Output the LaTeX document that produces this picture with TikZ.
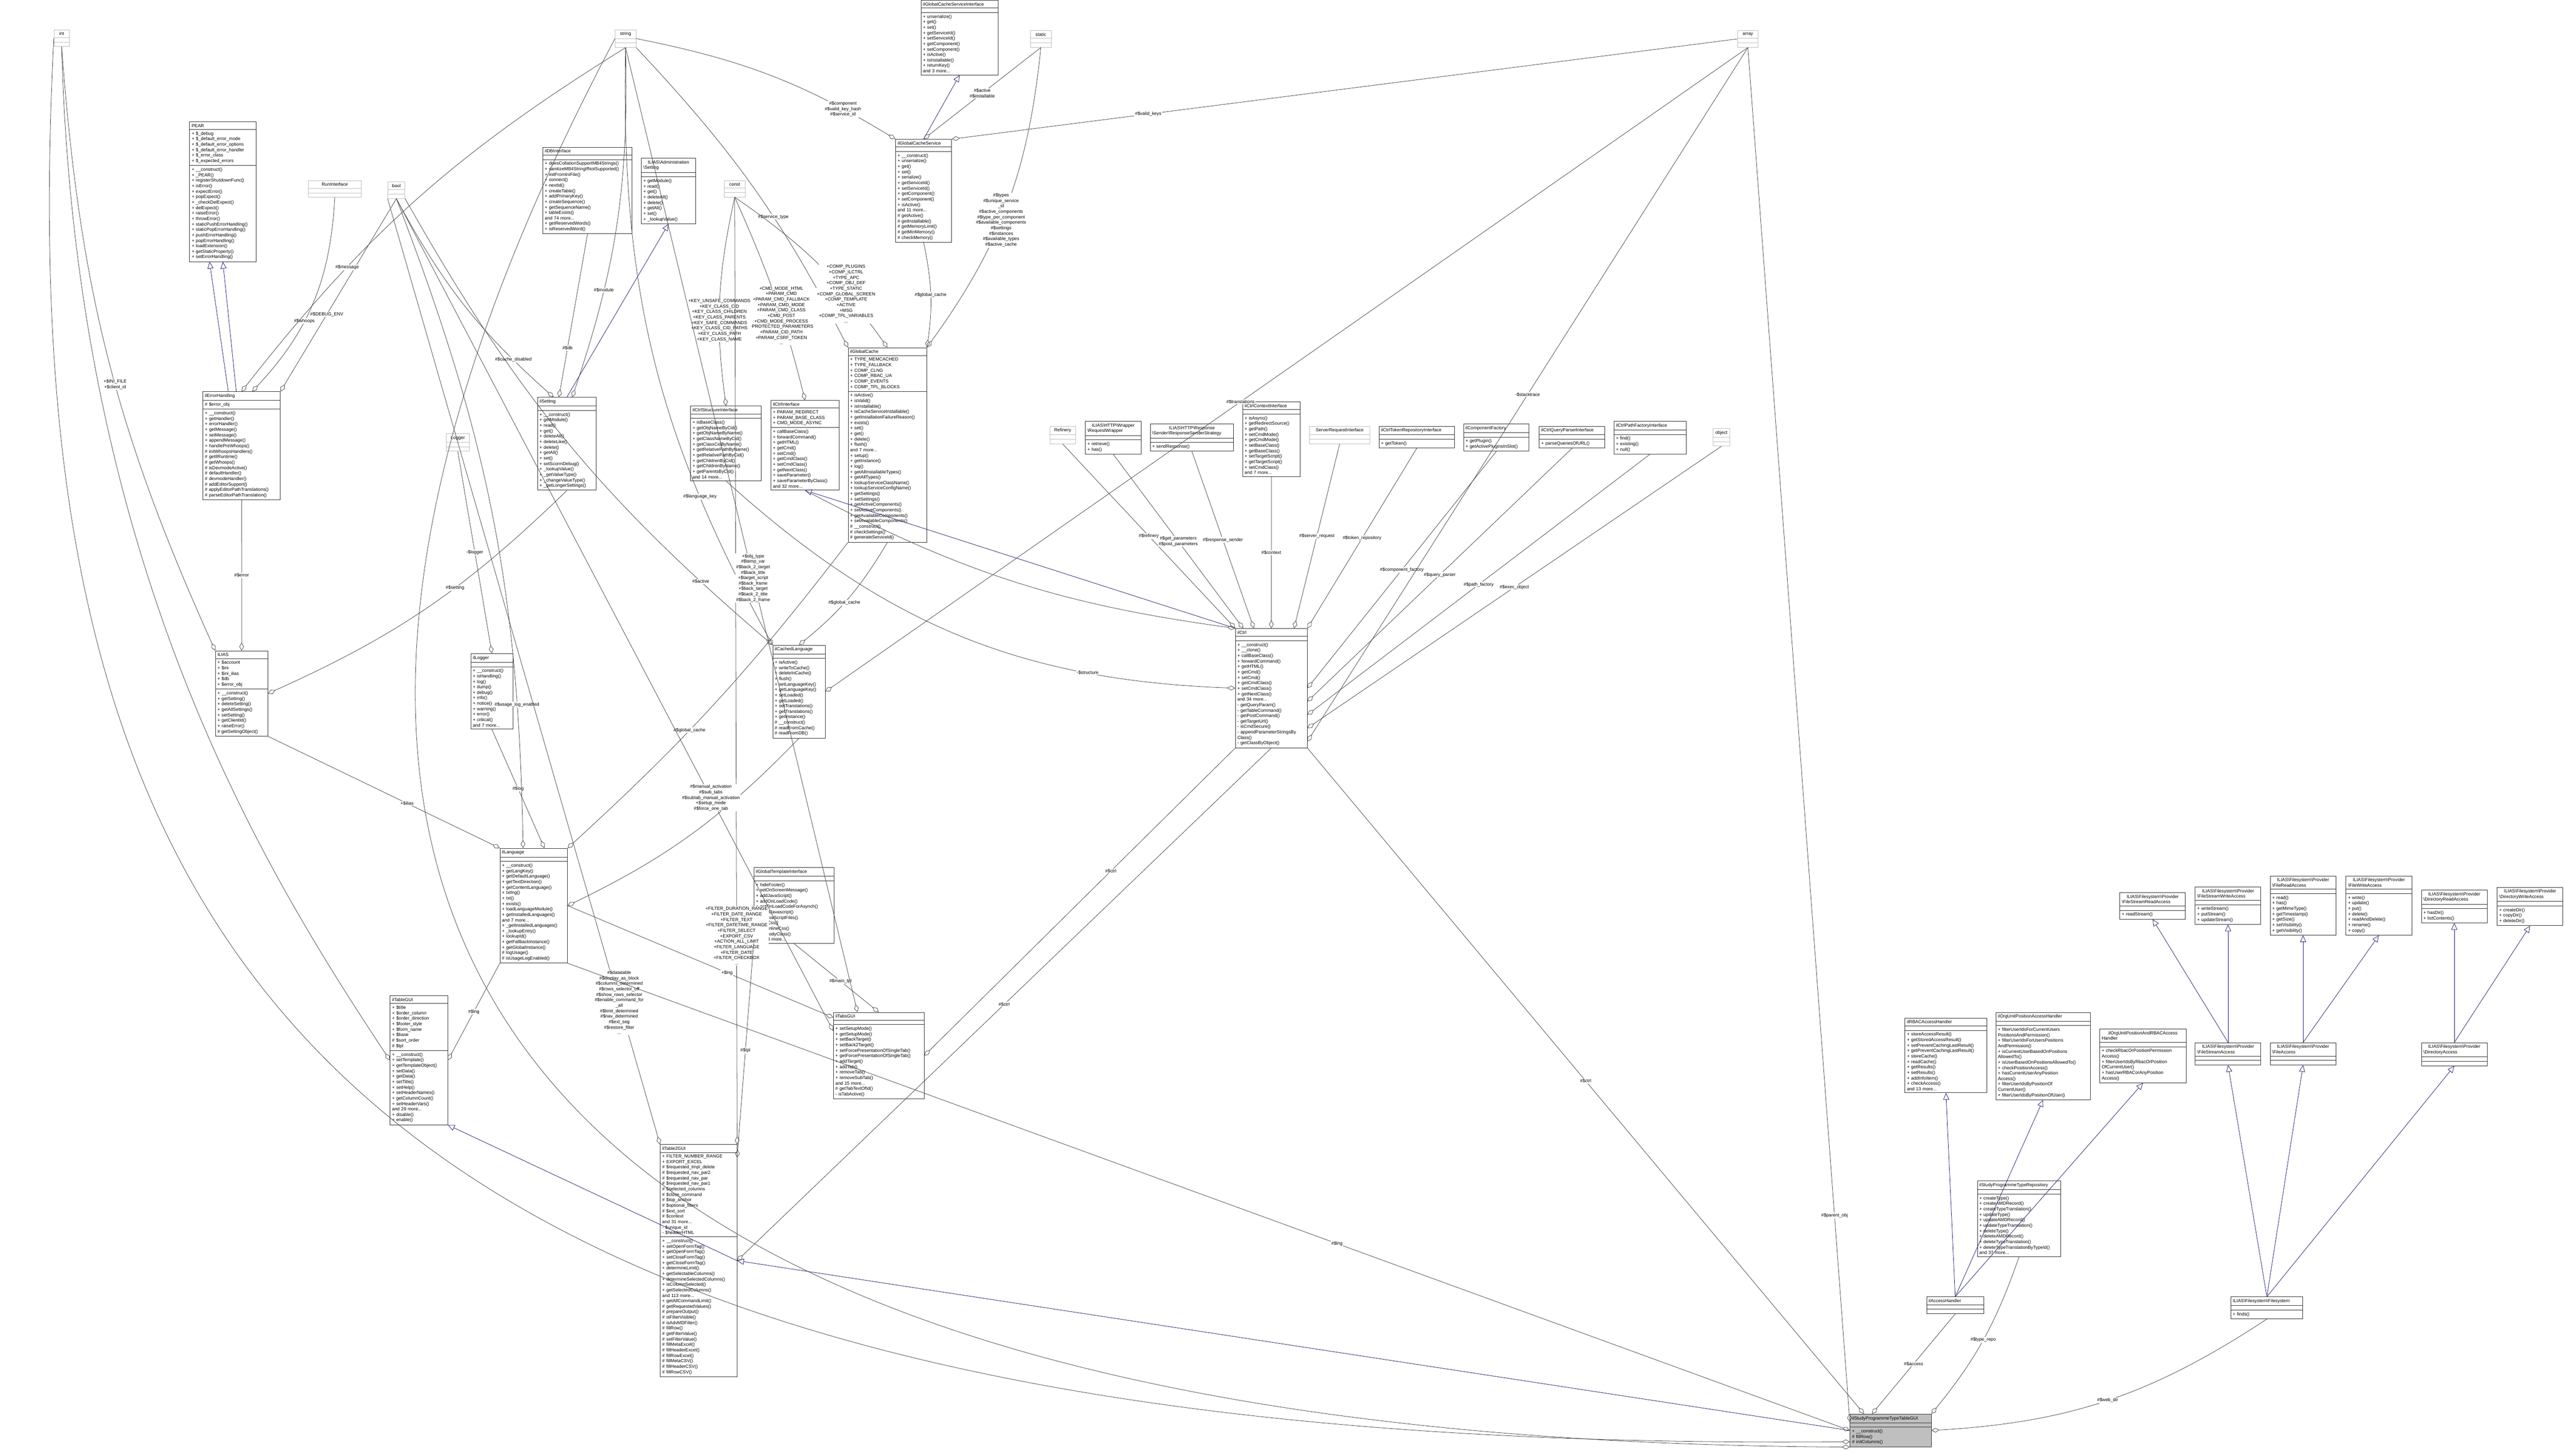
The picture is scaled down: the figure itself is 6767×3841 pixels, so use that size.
\documentclass[tikz,border=0pt]{standalone}
\usepackage{fontspec}
\setmainfont{Liberation Sans}
\usetikzlibrary{shapes.multipart,arrows.meta}
\definecolor{inhblue}{RGB}{25,25,112}
\tikzset{
  cls/.style={draw=black!80,line width=0.35pt,rectangle split,rectangle split parts=3,
    rectangle split empty part height=4pt,align=left,inner sep=1.5pt,anchor=north west,
    font=\fontsize{3.4}{4.1}\selectfont},
  grey/.style={cls,draw=black!25,align=center},
  agg/.style={draw=black!75,line width=0.3pt,-{Diamond[open,length=6pt,width=3.4pt]}},
  inh/.style={draw=inhblue,line width=0.3pt,-{Triangle[open,length=5pt,width=4.5pt]}},
  lbl/.style={font=\fontsize{3.4}{4.1}\selectfont,align=center,fill=white,inner sep=0.5pt}
}
\newcommand\mkcls[6]{\node[cls,text width=#3pt] (#1) at (#2) {\centering #4\nodepart{two}#5\nodepart{three}#6};}
\newcommand\mkgrey[4]{\node[grey,text width=#3pt] (#1) at (#2) {#4\nodepart{two}\nodepart{three}};}
\begin{document}
\begin{tikzpicture}[x=0.01cm,y=-0.01cm]
\useasboundingbox (0,0) rectangle (6767,3841);
% grey boxes
\mkgrey{int}{142,78}{8.4}{int}
\mkgrey{string}{1623,78}{12.6}{string}
\mkgrey{static}{2719,80}{12.6}{static}
\mkgrey{array}{4585,80}{12.6}{array}
\mkgrey{bool}{1023,479}{9.8}{bool}
\mkgrey{const}{1911,476}{12.6}{const}
\mkgrey{run}{813,476}{36.8}{RunInterface}
\mkgrey{logger}{1177,1144}{14.4}{Logger}
\mkgrey{refinery}{2770,1124}{16.3}{Refinery}
\mkgrey{srvreq}{3455,1124}{42.5}{ServerRequestInterface}
\mkgrey{object}{4520,1130}{9.8}{object}
% classes
\mkcls{gcsi}{2430,0}{54.9}{ilGlobalCacheServiceInterface}{}{+ unserialize()\\+ get()\\+ set()\\+ getServiceId()\\+ setServiceId()\\+ getComponent()\\+ setComponent()\\+ isActive()\\+ isInstallable()\\+ returnKey()\\and 3 more...}
\mkcls{pear}{500,321}{46.8}{PEAR}{+ \$\_debug\\+ \$\_default\_error\_mode\\+ \$\_default\_error\_options\\+ \$\_default\_error\_handler\\+ \$\_error\_class\\+ \$\_expected\_errors}{+ \_\_construct()\\+ \_PEAR()\\+ registerShutdownFunc()\\+ isError()\\+ expectError()\\+ popExpect()\\+ \_checkDelExpect()\\+ delExpect()\\+ raiseError()\\+ throwError()\\+ staticPushErrorHandling()\\+ staticPopErrorHandling()\\+ pushErrorHandling()\\+ popErrorHandling()\\+ loadExtension()\\+ getStaticProperty()\\+ setErrorHandling()}
\mkcls{dbi}{1432,388}{64.1}{ilDBInterface}{}{+ doesCollationSupportMB4Strings()\\+ sanitizeMB4StringIfNotSupported()\\+ initFromIniFile()\\+ connect()\\+ nextId()\\+ createTable()\\+ addPrimaryKey()\\+ createSequence()\\+ getSequenceName()\\+ tableExists()\\and 74 more...\\+ getReservedWords()\\+ isReservedWord()}
\mkcls{admset}{1692,417}{37.7}{ILIAS\textbackslash Administration\\\textbackslash Setting}{}{+ getModule()\\+ read()\\+ get()\\+ deleteAll()\\+ delete()\\+ getAll()\\+ set()\\+ \_lookupValue()}
\mkcls{gcs}{2363,367}{39.1}{ilGlobalCacheService}{}{+ \_\_construct()\\+ unserialize()\\+ get()\\+ set()\\+ serialize()\\+ getServiceId()\\+ setServiceId()\\+ getComponent()\\+ setComponent()\\+ isActive()\\and 11 more...\\\# getActive()\\\# getInstallable()\\\# getMemoryLimit()\\\# getMinMemory()\\\# checkMemory()}
\mkcls{err}{535,1033}{55.0}{ilErrorHandling}{\# \$error\_obj}{+ \_\_construct()\\+ getHandler()\\+ errorHandler()\\+ getMessage()\\+ setMessage()\\+ appendMessage()\\+ handlePreWhoops()\\\# initWhoopsHandlers()\\\# getIlRuntime()\\\# getWhoops()\\\# isDevmodeActive()\\\# defaultHandler()\\\# devmodeHandler()\\\# addEditorSupport()\\\# applyEditorPathTranslations()\\\# parseEditorPathTranslation()}
\mkcls{set}{1418,1048}{41.1}{ilSetting}{}{+ \_\_construct()\\+ getModule()\\+ read()\\+ get()\\+ deleteAll()\\+ deleteLike()\\+ delete()\\+ getAll()\\+ set()\\+ setScormDebug()\\+ \_lookupValue()\\+ \_getValueType()\\+ \_changeValueType()\\+ \_getLongerSettings()}
\mkcls{csi}{1822,1071}{50.2}{ilCtrlStructureInterface}{}{+ isBaseClass()\\+ getObjNameByCid()\\+ getObjNameByName()\\+ getClassNameByCid()\\+ getClassCidByName()\\+ getRelativePathByName()\\+ getRelativePathByCid()\\+ getChildrenByCid()\\+ getChildrenByName()\\+ getParentsByCid()\\and 14 more...}
\mkcls{ci}{2034,1056}{48.2}{ilCtrlInterface}{+ PARAM\_REDIRECT\\+ PARAM\_BASE\_CLASS\\+ CMD\_MODE\_ASYNC}{+ callBaseClass()\\+ forwardCommand()\\+ getHTML()\\+ getCmd()\\+ setCmd()\\+ getCmdClass()\\+ setCmdClass()\\+ getNextClass()\\+ saveParameter()\\+ saveParameterByClass()\\and 32 more...}
\mkcls{gc}{2238,917}{55.9}{ilGlobalCache}{+ TYPE\_MEMCACHED\\+ TYPE\_FALLBACK\\+ COMP\_CLNG\\+ COMP\_RBAC\_UA\\+ COMP\_EVENTS\\+ COMP\_TPL\_BLOCKS}{+ isActive()\\+ isValid()\\+ isInstallable()\\+ isCacheServiceInstallable()\\+ getInstallationFailureReason()\\+ exists()\\+ set()\\+ get()\\+ delete()\\+ flush()\\and 7 more...\\+ setup()\\+ getInstance()\\+ log()\\+ getAllInstallableTypes()\\+ getAllTypes()\\+ lookupServiceClassName()\\+ lookupServiceConfigName()\\+ getSettings()\\+ setSettings()\\+ getActiveComponents()\\+ setActiveComponents()\\+ getAvailableComponents()\\+ setAvailableComponents()\\\# \_\_construct()\\\# checkSettings()\\\# generateServiceId()}
\mkcls{rw}{2864,1111}{38.8}{ILIAS\textbackslash HTTP\textbackslash Wrapper\\\textbackslash RequestWrapper}{}{+ retrieve()\\+ has()}
\mkcls{rss}{3035,1118}{59.6}{ILIAS\textbackslash HTTP\textbackslash Response\\\textbackslash Sender\textbackslash ResponseSenderStrategy}{}{+ sendResponse()}
\mkcls{cci}{3279,1060}{40.0}{ilCtrlContextInterface}{}{+ isAsync()\\+ getRedirectSource()\\+ getPath()\\+ setCmdMode()\\+ getCmdMode()\\+ setBaseClass()\\+ getBaseClass()\\+ setTargetScript()\\+ getTargetScript()\\+ setCmdClass()\\and 7 more...}
\mkcls{ctr}{3639,1124}{53.6}{ilCtrlTokenRepositoryInterface}{}{+ getToken()}
\mkcls{cf}{3862,1118}{46.2}{ilComponentFactory}{}{+ getPlugin()\\+ getActivePluginsInSlot()}
\mkcls{cqp}{4062,1124}{46.2}{ilCtrlQueryParserInterface}{}{+ parseQueriesOfURL()}
\mkcls{cpf}{4259,1111}{51.1}{ilCtrlPathFactoryInterface}{}{+ find()\\+ existing()\\+ null()}
\mkcls{ilias}{568,1717}{36.3}{ILIAS}{+ \$account\\+ \$ini\\+ \$ini\_ilias\\+ \$db\\+ \$error\_obj}{+ \_\_construct()\\+ getSetting()\\+ deleteSetting()\\+ getAllSettings()\\+ setSetting()\\+ getClientId()\\+ raiseError()\\\# getSettingObject()}
\mkcls{ilogger}{1242,1724}{28.6}{ilLogger}{}{+ \_\_construct()\\+ isHandling()\\+ log()\\+ dump()\\+ debug()\\+ info()\\+ notice()\\+ warning()\\+ error()\\+ critical()\\and 7 more...}
\mkcls{cl}{2039,1702}{36.3}{ilCachedLanguage}{}{+ isActive()\\+ writeToCache()\\+ deleteInCache()\\+ flush()\\+ setLanguageKey()\\+ getLanguageKey()\\+ setLoaded()\\+ getLoaded()\\+ setTranslations()\\+ getTranslations()\\+ getInstance()\\\# \_\_construct()\\\# readFromCache()\\\# readFromDB()}
\mkcls{ctrl}{3260,1658}{50.8}{ilCtrl}{}{+ \_\_construct()\\+ \_\_clone()\\+ callBaseClass()\\+ forwardCommand()\\+ getHTML()\\+ getCmd()\\+ setCmd()\\+ getCmdClass()\\+ setCmdClass()\\+ getNextClass()\\and 34 more...\\- getQueryParam()\\- getTableCommand()\\- getPostCommand()\\- getTargetUrl()\\- isCmdSecure()\\- appendParameterStringsBy\\Class()\\- getClassByObject()}
\mkcls{lng}{1319,2238}{47.6}{ilLanguage}{}{+ \_\_construct()\\+ getLangKey()\\+ getDefaultLanguage()\\+ getTextDirection()\\+ getContentLanguage()\\+ txtlng()\\+ txt()\\+ exists()\\+ loadLanguageModule()\\+ getInstalledLanguages()\\and 7 more...\\+ \_getInstalledLanguages()\\+ \_lookupEntry()\\+ lookupId()\\+ getFallbackInstance()\\+ getGlobalInstance()\\\# logUsage()\\\# isUsageLogEnabled()}
\mkcls{gti}{1989,2289}{57.0}{ilGlobalTemplateInterface}{}{+ hideFooter()\\+ setOnScreenMessage()\\+ addJavaScript()\\+ addOnLoadCode()\\+ getOnLoadCodeForAsynch()\\+ resetJavascript()\\+ fillJavaScriptFiles()\\+ addCss()\\+ addInlineCss()\\+ setBodyClass()\\and 33 more...}
\mkcls{tgui}{1029,2627}{40.2}{ilTableGUI}{+ \$title\\+ \$order\_column\\+ \$order\_direction\\+ \$footer\_style\\+ \$form\_name\\+ \$base\\\# \$sort\_order\\\# \$tpl}{+ \_\_construct()\\+ setTemplate()\\+ getTemplateObject()\\+ setData()\\+ getData()\\+ setTitle()\\+ setHelp()\\+ setHeaderNames()\\+ getColumnCount()\\+ setHeaderVars()\\and 29 more...\\+ disable()\\+ enable()}
\mkcls{tabs}{2199,2671}{65.0}{ilTabsGUI}{}{+ setSetupMode()\\+ getSetupMode()\\+ setBackTarget()\\+ setBack2Target()\\+ setForcePresentationOfSingleTab()\\+ getForcePresentationOfSingleTab()\\+ addTarget()\\+ addTab()\\+ removeTab()\\+ removeSubTab()\\and 15 more...\\\# getTabTextOfId()\\- isTabActive()}
\mkcls{t2}{1742,3020}{54.5}{ilTable2GUI}{+ FILTER\_NUMBER\_RANGE\\+ EXPORT\_EXCEL\\\# \$requested\_tmpl\_delete\\\# \$requested\_nav\_par2\\\# \$requested\_nav\_par\\\# \$requested\_nav\_par1\\\# \$selected\_columns\\\# \$close\_command\\\# \$top\_anchor\\\# \$optional\_filters\\\# \$ext\_sort\\\# \$context\\and 31 more...\\- \$unique\_id\\- \$headerHTML}{+ \_\_construct()\\+ setOpenFormTag()\\+ getOpenFormTag()\\+ setCloseFormTag()\\+ getCloseFormTag()\\+ determineLimit()\\+ getSelectableColumns()\\+ determineSelectedColumns()\\+ isColumnSelected()\\+ getSelectedColumns()\\and 113 more...\\+ getAllCommandLimit()\\\# getRequestedValues()\\\# prepareOutput()\\\# isFilterVisible()\\\# isAdvMDFilter()\\\# fillRow()\\\# getFilterValue()\\\# setFilterValue()\\\# fillMetaExcel()\\\# fillHeaderExcel()\\\# fillRowExcel()\\\# fillMetaCSV()\\\# fillHeaderCSV()\\\# fillRowCSV()}
\mkcls{rbac}{5027,2686}{58.5}{ilRBACAccessHandler}{}{+ storeAccessResult()\\+ getStoredAccessResult()\\+ setPreventCachingLastResult()\\+ getPreventCachingLastResult()\\+ storeCache()\\+ readCache()\\+ getResults()\\+ setResults()\\+ addInfoItem()\\+ checkAccess()\\and 13 more...}
\mkcls{oupa}{5267,2671}{67.8}{ilOrgUnitPositionAccessHandler}{}{+ filterUserIdsForCurrentUsers\\PositionsAndPermission()\\+ filterUserIdsForUsersPositions\\AndPermission()\\+ isCurrentUserBasedOnPositions\\AllowedTo()\\+ isUserBasedOnPositionsAllowedTo()\\+ checkPositionAccess()\\+ hasCurrentUserAnyPosition\\Access()\\+ filterUserIdsByPositionOf\\CurrentUser()\\+ filterUserIdsByPositionOfUser()}
\mkcls{ouparbac}{5541,2715}{61.9}{ilOrgUnitPositionAndRBACAccess\\Handler}{}{+ checkRbacOrPositionPermission\\Access()\\+ filterUserIdsByRbacOrPosition\\OfCurrentUser()\\+ hasUserRBACorAnyPosition\\Access()}
\mkcls{fsra}{5594,2355}{46.3}{ILIAS\textbackslash Filesystem\textbackslash Provider\\\textbackslash FileStreamReadAccess}{}{+ readStream()}
\mkcls{fswa}{5793,2340}{46.3}{ILIAS\textbackslash Filesystem\textbackslash Provider\\\textbackslash FileStreamWriteAccess}{}{+ writeStream()\\+ putStream()\\+ updateStream()}
\mkcls{fra}{5991,2311}{46.3}{ILIAS\textbackslash Filesystem\textbackslash Provider\\\textbackslash FileReadAccess}{}{+ read()\\+ has()\\+ getMimeType()\\+ getTimestamp()\\+ getSize()\\+ setVisibility()\\+ getVisibility()}
\mkcls{fwa}{6191,2311}{46.3}{ILIAS\textbackslash Filesystem\textbackslash Provider\\\textbackslash FileWriteAccess}{}{+ write()\\+ update()\\+ put()\\+ delete()\\+ readAndDelete()\\+ rename()\\+ copy()}
\mkcls{dra}{6390,2348}{46.3}{ILIAS\textbackslash Filesystem\textbackslash Provider\\\textbackslash DirectoryReadAccess}{}{+ hasDir()\\+ listContents()}
\mkcls{dwa}{6590,2341}{46.3}{ILIAS\textbackslash Filesystem\textbackslash Provider\\\textbackslash DirectoryWriteAccess}{}{+ createDir()\\+ copyDir()\\+ deleteDir()}
\mkcls{fsa}{5793,2751}{46.3}{ILIAS\textbackslash Filesystem\textbackslash Provider\\\textbackslash FileStreamAccess}{}{}
\mkcls{fa}{5991,2751}{46.3}{ILIAS\textbackslash Filesystem\textbackslash Provider\\\textbackslash FileAccess}{}{}
\mkcls{da}{6390,2751}{46.3}{ILIAS\textbackslash Filesystem\textbackslash Provider\\\textbackslash DirectoryAccess}{}{}
\mkcls{ah}{5084,3422}{40.0}{ilAccessHandler}{}{}
\mkcls{repo}{5218,3116}{59.6}{ilStudyProgrammeTypeRepository}{}{+ createType()\\+ createAMDRecord()\\+ createTypeTranslation()\\+ updateType()\\+ updateAMDRecord()\\+ updateTypeTranslation()\\+ deleteType()\\+ deleteAMDRecord()\\+ deleteTypeTranslation()\\+ deleteTypeTranslationByTypeId()\\and 37 more...}
\mkcls{fs}{5887,3422}{51.1}{ILIAS\textbackslash Filesystem\textbackslash Filesystem}{}{+ finds()}
\node[cls,text width=57.9pt,fill=black!25] (T) at (4882,3731) {\centering ilStudyProgrammeTypeTableGUI\nodepart{two}\nodepart{three}+ \_\_construct()\\\# fillRow()\\\# initColumns()};
% inheritance
\draw[inh] ([xshift=-10pt]err.north) -- ([xshift=-10pt]pear.south);
\draw[inh] ([xshift=-4pt]err.north) -- ([xshift=0pt]pear.south);
\draw[inh] (set.north) -- (admset.south);
\draw[inh] (gcs.north) -- (gcsi.south);
\draw[inh] (ctrl.north west) -- (ci.south);
\draw[inh] (t2.east) -- (tgui.south east);
\draw[inh] (T.west) -- (t2.east);
\draw[inh] (ah.north) -- (rbac.south);
\draw[inh] (ah.north) -- (oupa.south);
\draw[inh] (ah.north) -- (ouparbac.south);
\draw[inh] (fs.north) -- (fsa.south);
\draw[inh] (fs.north) -- (fa.south);
\draw[inh] (fs.north) -- (da.south);
\draw[inh] (fsa.north) -- (fsra.south);
\draw[inh] (fsa.north) -- (fswa.south);
\draw[inh] (fa.north) -- (fra.south);
\draw[inh] (fa.north) -- (fwa.south);
\draw[inh] (da.north) -- (dra.south);
\draw[inh] (da.north) -- (dwa.south);
% aggregations
\draw[agg] (run.south) to[bend left=20] node[lbl,pos=0.6]{\#\$whoops} ([xshift=8pt]err.north);
\draw[agg] (bool.south) to node[lbl,pos=0.6]{\#\$DEBUG\_ENV} (err.north east);
\draw[agg] (string.south) to[bend right=10] node[lbl,pos=0.7]{\#\$message} (err.north);
\draw[agg] (int.south) to[bend right=10] node[lbl,pos=0.55]{+\$INI\_FILE\\+\$client\_id} (ilias.north west);
\draw[agg] (err.south) -- node[lbl]{\#\$error} (ilias.north);
\draw[agg] (dbi.south) -- node[lbl,pos=0.7]{\#\$db} ([xshift=-6pt]set.north);
\draw[agg] (bool.south) to[bend right=10] node[lbl,pos=0.8]{\#\$cache\_disabled} ([xshift=-10pt]set.north);
\draw[agg] (string.south) to[bend left=10] node[lbl,pos=0.7]{\#\$module} ([xshift=4pt]set.north);
\draw[agg] (set.south) to[bend left=10] node[lbl,pos=0.4]{\#\$setting} (ilias.east);
\draw[agg] (string.east) to[bend left=10] node[lbl,pos=0.8]{\#\$component\\\#\$valid\_key\_hash\\\#\$service\_id} (gcs.north west);
\draw[agg] (static.south) to node[lbl,pos=0.5]{\#\$active\\\#\$installable} (gcs.north);
\draw[agg] (array.west) -- node[lbl,pos=0.75]{\#\$valid\_keys} (gcs.north east);
\draw[agg] (string.south east) to[bend left=8] node[lbl,pos=0.6]{\#\$service\_type} (gc.north west);
\draw[agg] (static.south) to[bend left=15] node[lbl,pos=0.55]{\#\$types\\\#\$unique\_service\\\_id\\\#\$active\_components\\\#\$type\_per\_component\\\#\$available\_components\\\#\$settings\\\#\$instances\\\#\$available\_types\\\#\$active\_cache} (gc.north east);
\draw[agg] (const.south) to[bend left=10] node[lbl,pos=0.7]{+COMP\_PLUGINS\\+COMP\_ILCTRL\\+TYPE\_APC\\+COMP\_OBJ\_DEF\\+TYPE\_STATIC\\+COMP\_GLOBAL\_SCREEN\\+COMP\_TEMPLATE\\+ACTIVE\\+MSG\\+COMP\_TPL\_VARIABLES\\...} (gc.north);
\draw[agg] (const.south) to[bend left=5] node[lbl,pos=0.6]{+CMD\_MODE\_HTML\\+PARAM\_CMD\\+PARAM\_CMD\_FALLBACK\\+PARAM\_CMD\_MODE\\+PARAM\_CMD\_CLASS\\+CMD\_POST\\+CMD\_MODE\_PROCESS\\+PROTECTED\_PARAMETERS\\+PARAM\_CID\_PATH\\+PARAM\_CSRF\_TOKEN\\...} (ci.north);
\draw[agg] (const.south) to[bend right=10] node[lbl,pos=0.6]{+KEY\_UNSAFE\_COMMANDS\\+KEY\_CLASS\_CID\\+KEY\_CLASS\_CHILDREN\\+KEY\_CLASS\_PARENTS\\+KEY\_SAFE\_COMMANDS\\+KEY\_CLASS\_CID\_PATHS\\+KEY\_CLASS\_PATH\\+KEY\_CLASS\_NAME} (csi.north);
\draw[agg] (gcs.south) to[bend left=10] node[lbl,pos=0.5]{\#\$global\_cache} (gc.north east);
\draw[agg] (gc.south) to[bend left=10] node[lbl,pos=0.55]{\#\$global\_cache} (cl.north);
\draw[agg] (bool.south east) to[bend right=10] node[lbl,pos=0.85]{\#\$active} (cl.north west);
\draw[agg] (string.south) to[bend right=15] node[lbl,pos=0.75]{\#\$language\_key} (cl.north west);
\draw[agg] (array.south) -- node[lbl,pos=0.55]{\#\$translations} (cl.east);
\draw[agg] (logger.south) to node[lbl,pos=0.5]{-\$logger} (ilogger.north);
\draw[agg] (ilogger.south) to node[lbl,pos=0.5]{\#\$log} ([xshift=8pt]lng.north);
\draw[agg] (ilias.south east) to node[lbl,pos=0.6]{+\$ilias} (lng.north west);
\draw[agg] (bool.south) to[bend left=10] node[lbl,pos=0.8]{\#\$usage\_log\_enabled} ([xshift=-8pt]lng.north);
\draw[agg] (gc.south west) to[bend left=5] node[lbl,pos=0.6]{\#\$global\_cache} (lng.north east);
\draw[agg] (cl.south) to[bend left=10] (lng.east);
\draw[agg] (ci.south) to[bend right=10] (ctrl.north west);
\draw[agg] (csi.south) to[bend right=20] node[lbl,pos=0.75]{-\$structure} (ctrl.west);
\draw[agg] (refinery.south) -- node[lbl,pos=0.5]{\#\$refinery} (ctrl.north west);
\draw[agg] (rw.south) -- node[lbl,pos=0.5]{\#\$get\_parameters\\\#\$post\_parameters} ([xshift=6pt]ctrl.north west);
\draw[agg] (rss.south) -- node[lbl,pos=0.5]{\#\$response\_sender} ([xshift=14pt]ctrl.north west);
\draw[agg] (cci.south) -- node[lbl,pos=0.5]{\#\$context} (ctrl.north);
\draw[agg] (srvreq.south) -- node[lbl,pos=0.5]{\#\$server\_request} ([xshift=-10pt]ctrl.north east);
\draw[agg] (ctr.south) -- node[lbl,pos=0.5]{\#\$token\_repository} (ctrl.north east);
\draw[agg] (cf.south) -- node[lbl,pos=0.5]{\#\$component\_factory} (ctrl.east);
\draw[agg] (cqp.south) -- node[lbl,pos=0.5]{\#\$query\_parser} ([yshift=-10pt]ctrl.east);
\draw[agg] (cpf.south) -- node[lbl,pos=0.5]{\#\$path\_factory} ([yshift=-20pt]ctrl.east);
\draw[agg] (object.south) -- node[lbl,pos=0.5]{\#\$exec\_object} ([yshift=-30pt]ctrl.east);
\draw[agg] (array.south) -- node[lbl,pos=0.5]{-\$stacktrace} ([yshift=-40pt]ctrl.east);
\draw[agg] (lng.south west) -- node[lbl,pos=0.5]{\#\$lng} (tgui.east);
\draw[agg] (bool.south west) -- node[lbl,pos=0.85]{\#\$datatable\\\#\$display\_as\_block\\\#\$columns\_determined\\\#\$rows\_selector\_off\\\#\$show\_rows\_selector\\\#\$enable\_command\_for\\\_all\\\#\$limit\_determined\\\#\$nav\_determined\\\#\$ext\_seg\\\#\$restore\_filter\\...} (t2.north west);
\draw[agg] (const.south) -- node[lbl,pos=0.78]{+FILTER\_DURATION\_RANGE\\+FILTER\_DATE\_RANGE\\+FILTER\_TEXT\\+FILTER\_DATETIME\_RANGE\\+FILTER\_SELECT\\+EXPORT\_CSV\\+ACTION\_ALL\_LIMIT\\+FILTER\_LANGUAGE\\+FILTER\_DATE\\+FILTER\_CHECKBOX\\...} (t2.north east);
\draw[agg] (int.south) .. controls (200,1500) and (700,2300) .. (tgui.west);
\draw[agg] (gti.south) to node[lbl,pos=0.55]{\#\$main\_tpl} (tabs.north);
\draw[agg] (lng.east) to node[lbl,pos=0.6]{+\$lng} ([yshift=-4pt]tabs.north west);
\draw[agg] (bool.south) -- node[lbl,pos=0.72]{\#\$manual\_activation\\\#\$sub\_tabs\\\#\$subtab\_manual\_activation\\+\$setup\_mode\\\#\$force\_one\_tab} ([yshift=-14pt]tabs.north west);
\draw[agg] (string.south) -- node[lbl,pos=0.55]{+\$obj\_type\\\#\$temp\_var\\\#\$back\_2\_target\\\#\$back\_title\\+\$target\_script\\\#\$back\_frame\\+\$back\_target\\\#\$back\_2\_title\\\#\$back\_2\_frame} ([xshift=-16pt]tabs.north);
\draw[agg] (ctrl.south west) to node[lbl,pos=0.4]{\#\$ctrl} (tabs.east);
\draw[agg] (ctrl.south) to node[lbl,pos=0.5]{\#\$ctrl} (t2.east);
\draw[agg] (gti.south west) to node[lbl,pos=0.5]{\#\$tpl} ([yshift=-10pt]t2.north east);
\draw[agg] (ctrl.south east) to node[lbl,pos=0.5]{\#\$ctrl} ([xshift=-20pt]T.north);
\draw[agg] (ah.south) to node[lbl,pos=0.5]{\#\$access} ([xshift=-14pt]T.north);
\draw[agg] (repo.south) to[bend left=10] node[lbl,pos=0.5]{\#\$type\_repo} (T.north east);
\draw[agg] (fs.south) to[bend left=15] node[lbl,pos=0.5]{\#\$web\_dir} (T.east);
\draw[agg] (lng.south east) -- node[lbl,pos=0.6]{\#\$lng} (T.west);
\draw[agg] (array.south) -- node[lbl,pos=0.85]{\#\$parent\_obj} ([yshift=-6pt]T.north west);
\draw[agg] (string.west) .. controls (300,2600) and (1500,3800) .. (T.south west);
\draw[agg] (int.west) .. controls (20,2500) and (800,3841) .. ([yshift=4pt]T.south west);
\end{tikzpicture}
\end{document}
